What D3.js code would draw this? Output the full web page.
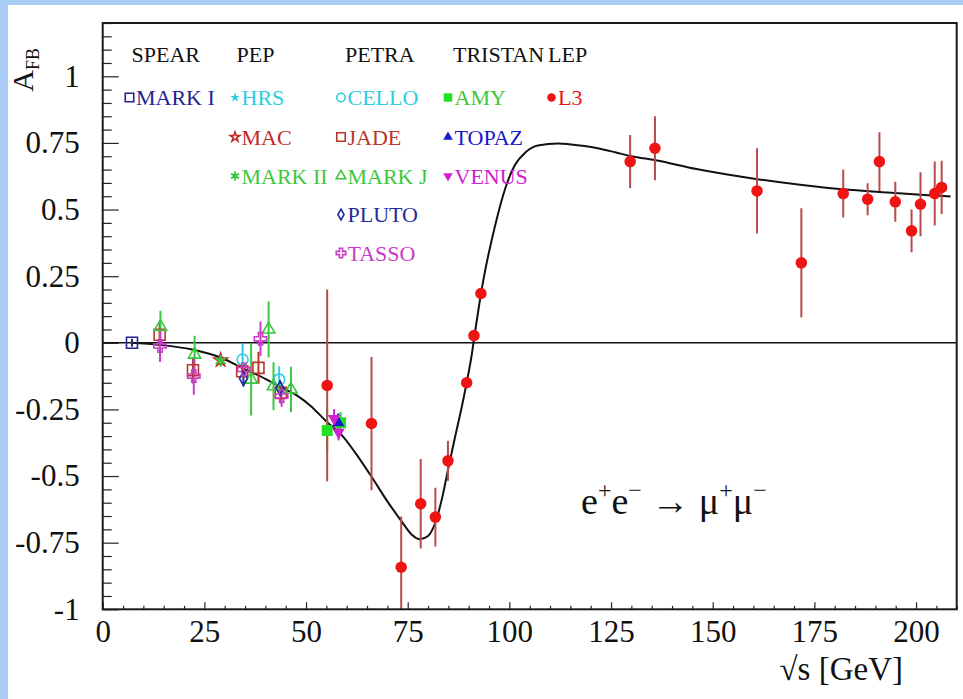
<!DOCTYPE html>
<html>
<head>
<meta charset="utf-8">
<script src="https://cdn.jsdelivr.net/npm/d3@7"></script>
<style>
  html, body { margin: 0; padding: 0; background: #a9cdf7; }
  svg { display: block; }
  text { font-family: "Liberation Serif", "Times New Roman", serif; }
</style>
</head>
<body>
<svg id="chart" width="963" height="699"></svg>
<script>
// ---- Measurements: [sqrt(s) in GeV, A_FB, error] ----
const markI  = [[7.2, 0.0, 0.015]];
const hrs    = [[29.0, -0.062, 0.02]];
const mac    = [[29.0, -0.065, 0.014]];
const markII = [[29.0, -0.068, 0.018]];
const cello  = [[34.4, -0.063, 0.06], [43.4, -0.138, 0.05]];
const jade   = [[14.0, 0.03, 0.045], [22.2, -0.103, 0.05], [34.3, -0.107, 0.02], [38.3, -0.094, 0.06], [43.8, -0.188, 0.04]];
const markJ  = [[14.2, 0.06, 0.06], [22.6, -0.044, 0.07], [36.5, -0.138, 0.135], [40.8, 0.05, 0.105], [42.0, -0.163, 0.09], [46.3, -0.175, 0.085]];
const pluto  = [[34.6, -0.134, 0.03], [43.6, -0.17, 0.03]];
const tasso  = [[14.1, -0.012, 0.06], [22.4, -0.125, 0.07], [34.7, -0.1, 0.025], [38.8, 0.015, 0.065], [44.0, -0.2, 0.04]];
const amy    = [[55.2, -0.329, 0.085], [58.5, -0.3, 0.04]];
const topaz  = [[57.9, -0.3, 0.035]];
const venus  = [[56.9, -0.284, 0.035], [58.0, -0.336, 0.03]];
const l3     = [[55.2, -0.16, 0.36], [66.1, -0.303, 0.25], [73.4, -0.842, 0.19], [78.2, -0.604, 0.168], [81.8, -0.654, 0.11],
                [84.9, -0.443, 0.075], [89.5, -0.15, 0.02], [91.3, 0.027, 0.01], [93.0, 0.185, 0.02],
                [129.7, 0.68, 0.1], [135.8, 0.73, 0.12], [160.9, 0.57, 0.16], [171.8, 0.30, 0.205], [182.1, 0.56, 0.09],
                [188.1, 0.539, 0.06], [191.0, 0.68, 0.11], [194.9, 0.529, 0.075], [198.9, 0.42, 0.08], [201.1, 0.52, 0.12],
                [204.6, 0.56, 0.12], [206.3, 0.583, 0.10]];

// ---- Standard Model expectation: [sqrt(s), A_FB] ----
const smCurve = [[7, 0.0], [14, -0.008], [22, -0.025], [29, -0.055], [35, -0.1], [40, -0.135], [44, -0.168], [48, -0.2],
                 [51, -0.235], [55, -0.295], [59, -0.35], [62, -0.41], [66, -0.5], [70, -0.595], [73.5, -0.67], [76, -0.72],
                 [78, -0.737], [80, -0.725], [82, -0.665], [83.5, -0.58], [85, -0.47], [86.7, -0.35], [88.3, -0.24],
                 [89.5, -0.15], [90.8, -0.04], [91.4, 0.025], [92.4, 0.125], [93.6, 0.235], [96.5, 0.44], [99, 0.58],
                 [101.3, 0.665], [104, 0.715], [107, 0.74], [112, 0.748], [118, 0.739], [122, 0.729], [126, 0.715],
                 [130, 0.70], [136, 0.685], [146, 0.652], [161, 0.614], [172, 0.592], [182, 0.576], [193, 0.564],
                 [203, 0.554], [208.5, 0.549]];

// ---- Axis ticks ----
const xMajorTicks = [0, 25, 50, 75, 100, 125, 150, 175, 200];
const yMajorTicks = [-1, -0.75, -0.5, -0.25, 0, 0.25, 0.5, 0.75, 1];
const yTickLabels = ["-1", "-0.75", "-0.5", "-0.25", "0", "0.25", "0.5", "0.75", "1"];

// ---- Legend: accelerator headers and experiments ----
const accelerators = ["SPEAR", "PEP", "PETRA", "TRISTAN", "LEP"];
const experimentNames = ["MARK I", "HRS", "MAC", "MARK II", "CELLO", "JADE", "MARK J", "PLUTO", "TASSO", "AMY", "TOPAZ", "VENUS", "L3"];

// Presentation of each experiment (marker, colours, legend slot)
const styles = {
  "MARK I":  {data: markI,  sym: "square",   fill: false, color: "#23238e", bar: "#23238e", col: 0, row: 0},
  "HRS":     {data: hrs,    sym: "star",     fill: true,  color: "#2ccde0", bar: "#2ccde0", col: 1, row: 0},
  "MAC":     {data: mac,    sym: "star",     fill: false, color: "#c02a2a", bar: "#c02a2a", col: 1, row: 1},
  "MARK II": {data: markII, sym: "asterisk", fill: false, color: "#3cc83c", bar: "#3cc83c", col: 1, row: 2},
  "CELLO":   {data: cello,  sym: "circle",   fill: false, color: "#2ccde0", bar: "#2ccde0", col: 2, row: 0},
  "JADE":    {data: jade,   sym: "square",   fill: false, color: "#b8362a", bar: "#b8362a", col: 2, row: 1},
  "MARK J":  {data: markJ,  sym: "triangle", fill: false, color: "#3cc83c", bar: "#3cc83c", col: 2, row: 2},
  "PLUTO":   {data: pluto,  sym: "diamond",  fill: false, color: "#1f2a9a", bar: "#1f2a9a", col: 2, row: 3},
  "TASSO":   {data: tasso,  sym: "cross",    fill: false, color: "#c83cc8", bar: "#c83cc8", col: 2, row: 4},
  "AMY":     {data: amy,    sym: "square",   fill: true,  color: "#22e022", bar: "#3cc83c", col: 3, row: 0},
  "TOPAZ":   {data: topaz,  sym: "triangle", fill: true,  color: "#1818cc", bar: "#1818cc", col: 3, row: 1},
  "VENUS":   {data: venus,  sym: "triangleDown", fill: true, color: "#d020d0", bar: "#d020d0", col: 3, row: 2},
  "L3":      {data: l3,     sym: "circle",   fill: true,  color: "#ee1414", bar: "#b84a4a", col: 4, row: 0}
};

const W = 963, H = 699;
const frame = {left: 102.7, right: 956.7, top: 23, bottom: 609.3};

const svg = d3.select("#chart");

// Page background: white panel on a pale blue border
svg.append("rect").attr("x", 0).attr("y", 0).attr("width", W).attr("height", H).attr("fill", "#a9cdf7");
svg.append("rect").attr("x", 8).attr("y", 5).attr("width", W - 8).attr("height", H - 5).attr("fill", "#ffffff");

const x = d3.scaleLinear().domain([0, 210]).range([frame.left, frame.right]);
const y = d3.scaleLinear().domain([-1, 1.2]).range([frame.bottom, frame.top]);

svg.append("clipPath").attr("id", "plotClip")
  .append("rect").attr("x", frame.left).attr("y", frame.top)
  .attr("width", frame.right - frame.left).attr("height", frame.bottom - frame.top);

// ---- Axes ----
const xMinor = d3.range(0, 211, 5).filter(v => !xMajorTicks.includes(v));
svg.append("g").attr("transform", `translate(0,${frame.bottom})`)
  .call(d3.axisBottom(x).tickValues(xMinor).tickSizeInner(-3.5).tickSizeOuter(0).tickFormat(""))
  .call(g => g.select(".domain").remove())
  .call(g => g.selectAll("line").attr("stroke", "#222").attr("stroke-width", 1.2));
svg.append("g").attr("transform", `translate(0,${frame.bottom})`)
  .call(d3.axisBottom(x).tickValues(xMajorTicks).tickSizeInner(-7).tickSizeOuter(0).tickPadding(11).tickFormat(d3.format("d")))
  .call(g => g.select(".domain").remove())
  .call(g => g.selectAll("line").attr("stroke", "#222").attr("stroke-width", 1.2))
  .call(g => g.selectAll("text").attr("font-size", 31).attr("fill", "#111"));

const yMinor = d3.range(-1, 1.2001, 0.05).map(v => Math.round(v * 100) / 100)
  .filter(v => !yMajorTicks.some(t => Math.abs(t - v) < 1e-6));
svg.append("g").attr("transform", `translate(${frame.left},0)`)
  .call(d3.axisLeft(y).tickValues(yMinor).tickSizeInner(-9).tickSizeOuter(0).tickFormat(""))
  .call(g => g.select(".domain").remove())
  .call(g => g.selectAll("line").attr("stroke", "#222").attr("stroke-width", 1.2));
svg.append("g").attr("transform", `translate(${frame.left},0)`)
  .call(d3.axisLeft(y).tickValues(yMajorTicks).tickSizeInner(-16).tickSizeOuter(0).tickPadding(23)
        .tickFormat((d, i) => yTickLabels[i]))
  .call(g => g.select(".domain").remove())
  .call(g => g.selectAll("line").attr("stroke", "#222").attr("stroke-width", 1.2))
  .call(g => g.selectAll("text").attr("font-size", 31).attr("fill", "#111"));

// Axis titles
svg.append("text")
  .attr("x", 903).attr("y", 680).attr("text-anchor", "end")
  .attr("font-size", 33).attr("fill", "#111")
  .text("\u221As [GeV]");

const yTitle = svg.append("text")
  .attr("transform", "translate(33,48) rotate(-90)")
  .attr("text-anchor", "end").attr("font-size", 30).attr("fill", "#111");
yTitle.append("tspan").text("A");
yTitle.append("tspan").attr("font-size", 18).attr("dy", 6).text("FB");

// ---- Zero line and Standard Model curve ----
const plot = svg.append("g").attr("clip-path", "url(#plotClip)");
plot.append("line")
  .attr("x1", frame.left).attr("x2", frame.right)
  .attr("y1", y(0)).attr("y2", y(0))
  .attr("stroke", "#111").attr("stroke-width", 1.5);

plot.append("path")
  .datum(smCurve)
  .attr("fill", "none").attr("stroke", "#111").attr("stroke-width", 2)
  .attr("d", d3.line().x(d => x(d[0])).y(d => y(d[1])).curve(d3.curveMonotoneX));

// ---- Marker shapes ----
function symbolPath(sym, size) {
  switch (sym) {
    case "square": return d3.symbol(d3.symbolSquare, size * size)();
    case "circle": return d3.symbol(d3.symbolCircle, Math.PI * size * size / 4)();
    case "star": return d3.symbol(d3.symbolStar, size * size * 0.45)();
    case "triangle": return d3.symbol(d3.symbolTriangle, size * size * 0.55)();
    case "triangleDown": return d3.symbol(d3.symbolTriangle, size * size * 0.55)();
    case "diamond": return d3.symbol(d3.symbolDiamond, size * size * 0.45)();
    case "cross": return d3.symbol(d3.symbolCross, size * size * 0.7)();
    case "asterisk": return d3.symbol(d3.symbolAsterisk, size * size * 0.8)();
  }
}
function drawMarker(g, st, cx, cy, size) {
  const p = g.append("path")
    .attr("d", symbolPath(st.sym, size))
    .attr("transform", `translate(${cx},${cy})` + (st.sym === "triangleDown" ? " rotate(180)" : ""));
  if (st.fill) {
    p.attr("fill", st.color).attr("stroke", "none");
  } else {
    p.attr("fill", "none").attr("stroke", st.color).attr("stroke-width", st.sym === "asterisk" ? 2 : 1.6);
  }
  return p;
}

// ---- Error bars and data points ----
experimentNames.forEach(name => {
  const st = styles[name];
  const g = plot.append("g").attr("class", "exp");
  g.selectAll("line.err").data(st.data).enter().append("line")
    .attr("class", "err")
    .attr("x1", d => x(d[0])).attr("x2", d => x(d[0]))
    .attr("y1", d => y(d[1] - d[2])).attr("y2", d => y(d[1] + d[2]))
    .attr("stroke", st.bar).attr("stroke-width", 2);
});
experimentNames.forEach(name => {
  const st = styles[name];
  const g = plot.append("g");
  const size = name === "L3" ? 11.5 : 11;
  st.data.forEach(d => drawMarker(g, st, x(d[0]), y(d[1]), size));
});

// ---- Legend ----
const headerX = [131.5, 236.5, 345, 453, 548];
const colTextX = [136, 241.5, 347.5, 454.5, 558];
const rowY = [105, 144.5, 183.5, 222, 260.5];
const legend = svg.append("g");
accelerators.forEach((a, i) => {
  legend.append("text").attr("x", headerX[i]).attr("y", 62)
    .attr("font-size", 22).attr("fill", "#111").text(a);
});
experimentNames.forEach(name => {
  const st = styles[name];
  const tx = colTextX[st.col], ty = rowY[st.row];
  drawMarker(legend, st, tx - 6.5, ty - 7.5, st.sym === "star" ? 8 : 8.5);
  legend.append("text").attr("x", tx).attr("y", ty)
    .attr("font-size", 22).attr("fill", st.color === "#22e022" ? "#3cc83c" : st.color)
    .text(name);
});

// ---- Process label ----
const proc = svg.append("text").attr("x", 581).attr("y", 514)
  .attr("font-size", 38).attr("fill", "#111");
proc.append("tspan").text("e");
proc.append("tspan").attr("font-size", 24).attr("dy", -16).text("+");
proc.append("tspan").attr("dy", 16).text("e");
proc.append("tspan").attr("font-size", 24).attr("dy", -16).text("\u2212");
proc.append("tspan").attr("dy", 16).text(" \u2192 \u03BC");
proc.append("tspan").attr("font-size", 24).attr("dy", -16).text("+");
proc.append("tspan").attr("dy", 16).text("\u03BC");
proc.append("tspan").attr("font-size", 24).attr("dy", -16).text("\u2212");

// ---- Frame ----
svg.append("rect")
  .attr("x", frame.left).attr("y", frame.top)
  .attr("width", frame.right - frame.left).attr("height", frame.bottom - frame.top)
  .attr("fill", "none").attr("stroke", "#1a1a1a").attr("stroke-width", 2);
</script>
</body>
</html>
